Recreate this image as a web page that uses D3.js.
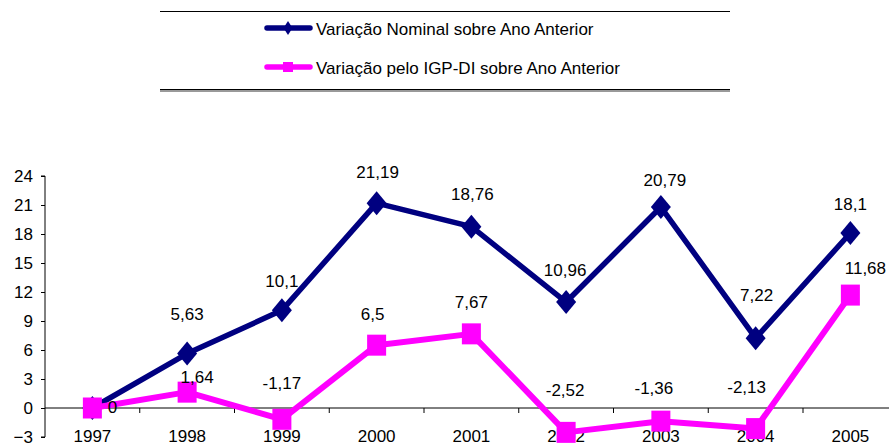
<!DOCTYPE html>
<html>
<head>
<meta charset="utf-8">
<script src="https://cdn.jsdelivr.net/npm/d3@7"></script>
<style>
  body { margin: 0; background: #fff; }
  svg { display: block; font-family: "Liberation Sans", Arial, sans-serif; }
</style>
</head>
<body>
<svg id="chart" width="889" height="446"></svg>
<script>
// data
var years = ["1997", "1998", "1999", "2000", "2001", "2002", "2003", "2004", "2005"];
var nominal = [0, 5.63, 10.1, 21.19, 18.76, 10.96, 20.79, 7.22, 18.1];
var igpdi = [0, 1.64, -1.17, 6.5, 7.67, -2.52, -1.36, -2.13, 11.68];
var yTicks = [-3, 0, 3, 6, 9, 12, 15, 18, 21, 24];
var seriesNames = ["Variação Nominal sobre Ano Anterior", "Variação pelo IGP-DI sobre Ano Anterior"];

// hand placed label nudges (px, relative to the point), like the excel original
var nominalNudge = [null, [0, -34], [0, -23], [1, -25], [1, -27], [-1, -26], [4, -21], [1, -37], [0, -23]];
var igpNudge = [[20, 5], [10, -9], [0, -30], [-4, -25], [0, -26], [-1, -36], [-7, -27], [-9, -36], [15, -21]];

var navy = "#000080", pink = "#FF00FF";
var fs = 17;

var svg = d3.select("#chart");

var x = d3.scaleBand()
    .domain(years)
    .range([45, 45 + 9 * 94.75]);

var y = d3.scaleLinear()
    .domain([-3, 24])
    .range([437, 176]);

var fmt = function(v) { return String(v).replace(".", ","); };
var cx = function(d, i) { return x(years[i]) + x.bandwidth() / 2; };

// y axis
var yAxis = d3.axisLeft(y)
    .tickValues(yTicks)
    .tickSize(4)
    .tickPadding(8)
    .tickFormat(d3.format("d"));

var yG = svg.append("g")
    .attr("transform", "translate(45,0)")
    .call(yAxis);
yG.select(".domain").attr("d", "M-4," + y(-3) + "H0V" + y(24) + "H-4").attr("stroke", "#000");
yG.selectAll(".tick line").attr("stroke", "#000");
yG.selectAll("text").style("font-size", fs + "px").attr("fill", "#000");

// x axis at zero, ticks on band edges
var zero = y(0);
svg.append("line")
    .attr("x1", 45).attr("x2", 889)
    .attr("y1", zero).attr("y2", zero)
    .attr("stroke", "#000");

svg.selectAll(".xtick")
    .data(years.slice(1))
    .enter()
    .append("line")
    .attr("class", "xtick")
    .attr("x1", function(d) { return x(d); })
    .attr("x2", function(d) { return x(d); })
    .attr("y1", zero)
    .attr("y2", zero + 5)
    .attr("stroke", "#000");

// category labels sit low, below the plot
var xAxis = d3.axisBottom(x).tickSize(0).tickPadding(0);
var xG = svg.append("g")
    .attr("transform", "translate(0,430)")
    .call(xAxis);
xG.select(".domain").remove();
xG.selectAll("text").style("font-size", fs + "px").attr("fill", "#000").attr("dy", "0.72em");

// lines
var line = d3.line()
    .x(function(d, i) { return cx(d, i); })
    .y(function(d) { return y(d); });

function diamond(g, px, py, w, h, col) {
    g.append("path")
        .attr("d", "M" + px + "," + (py - h) + "L" + (px + w) + "," + py + "L" + px + "," + (py + h) + "L" + (px - w) + "," + py + "Z")
        .attr("fill", col);
}

svg.append("path")
    .datum(nominal)
    .attr("d", line)
    .attr("fill", "none")
    .attr("stroke", navy)
    .attr("stroke-width", 5.5)
    .attr("stroke-linejoin", "round");

var nomMarks = svg.append("g");
nominal.forEach(function(v, i) {
    diamond(nomMarks, cx(v, i), y(v), 10, 12, navy);
});

svg.append("path")
    .datum(igpdi)
    .attr("d", line)
    .attr("fill", "none")
    .attr("stroke", pink)
    .attr("stroke-width", 6)
    .attr("stroke-linejoin", "round");

svg.append("g").selectAll("rect")
    .data(igpdi)
    .enter()
    .append("rect")
    .attr("x", function(d, i) { return cx(d, i) - 9.5; })
    .attr("y", function(d) { return y(d) - 10.5; })
    .attr("width", 19)
    .attr("height", 21)
    .attr("fill", pink);

// data labels
function labels(vals, nudge) {
    svg.append("g").selectAll("text")
        .data(vals)
        .enter()
        .filter(function(d, i) { return nudge[i] !== null; })
        .append("text")
        .attr("x", function(d) { var i = vals.indexOf(d); return cx(d, i) + nudge[i][0]; })
        .attr("y", function(d) { var i = vals.indexOf(d); return y(d) + nudge[i][1]; })
        .attr("text-anchor", "middle")
        .style("font-size", fs + "px")
        .text(fmt);
}
labels(nominal, nominalNudge);
labels(igpdi, igpNudge);

// legend
var lg = svg.append("g");
lg.append("line").attr("x1", 160).attr("x2", 730).attr("y1", 11.5).attr("y2", 11.5).attr("stroke", "#000");
lg.append("line").attr("x1", 160).attr("x2", 730).attr("y1", 89.5).attr("y2", 89.5).attr("stroke", "#000");
lg.append("line").attr("x1", 160).attr("x2", 730).attr("y1", 91).attr("y2", 91).attr("stroke", "#999").attr("stroke-width", 2);

var rows = [28, 67];
seriesNames.forEach(function(name, i) {
    var col = i === 0 ? navy : pink;
    var ly = rows[i];
    lg.append("line")
        .attr("x1", 267).attr("x2", 310)
        .attr("y1", ly).attr("y2", ly)
        .attr("stroke", col)
        .attr("stroke-width", 5.5)
        .attr("stroke-linecap", "round");
    if (i === 0) {
        diamond(lg, 288, ly, 4.5, 7, col);
    } else {
        lg.append("rect").attr("x", 283).attr("y", ly - 5).attr("width", 10).attr("height", 10).attr("fill", col);
    }
    lg.append("text")
        .attr("x", 316)
        .attr("y", ly + 7)
        .style("font-size", fs + "px")
        .text(name);
});
</script>
</body>
</html>
